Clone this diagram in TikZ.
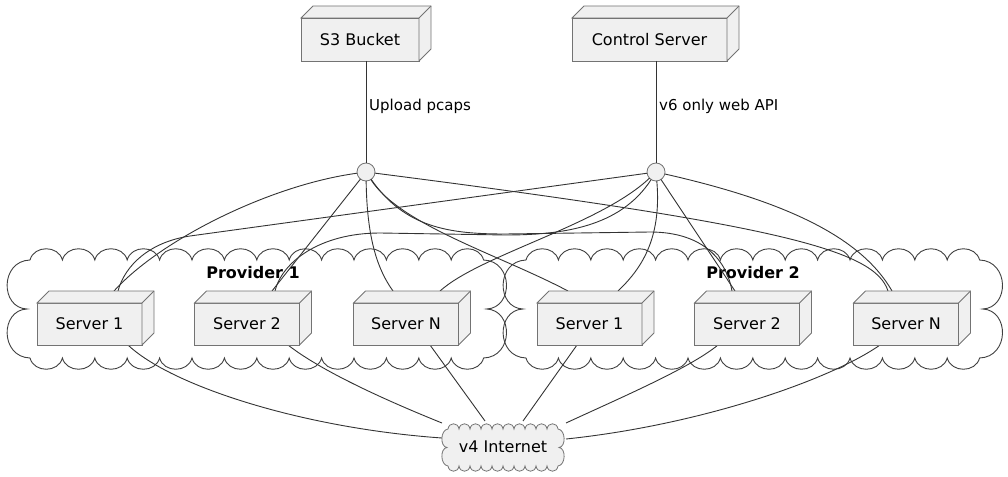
\documentclass[tikz,border=0pt]{standalone}
\usepackage{fontspec}
\setmainfont{DejaVu Sans}
\begin{document}
\begin{tikzpicture}[x=1pt,y=-1pt,
  edge/.style={draw=black!80,line width=0.9pt},
  boxst/.style={draw=black!55,fill=black!6,line width=0.8pt},
  srvbox/.style={boxst,rectangle,minimum width=105pt,minimum height=42pt,inner sep=0pt,outer sep=0pt,font=\fontsize{16}{19}\selectfont},
  topbox/.style={boxst,rectangle,minimum height=43pt,inner sep=0pt,outer sep=0pt,font=\fontsize{16}{19}\selectfont},
  circ/.style={boxst,circle,minimum size=18pt,inner sep=0pt,outer sep=0pt},
  lbl/.style={inner sep=0pt,font=\fontsize{15}{18}\selectfont},
  ttl/.style={inner sep=0pt,font=\fontsize{16}{19}\selectfont\bfseries},
  cloudline/.style={draw=black!75,line width=0.9pt}]
\useasboundingbox (0,0) rectangle (1008,476);
\newcommand\depthfaces[1]{%
  \filldraw[boxst] (#1.north west) -- ++(12,-12) -- ([shift={(12,-12)}]#1.north east)
    -- ([shift={(12,-12)}]#1.south east) -- (#1.south east) -- (#1.north east) -- cycle;
  \draw[boxst] (#1.north east) -- ++(12,-12);}
\newcommand\provcloud[1]{%
  \draw[cloudline] (#1,260)
   \foreach \i in {0,...,13}{ .. controls ({#1+\i*32.4+4},245) and ({#1+(\i+1)*32.4-4},245) .. ({#1+(\i+1)*32.4},260) }
   .. controls ({#1+453.6+30},261) and ({#1+453.6+30},308) .. ({#1+453.6+3},309)
   .. controls ({#1+453.6+30},310) and ({#1+453.6+30},357) .. ({#1+453.6},358)
   \foreach \i in {13,...,0}{ .. controls ({#1+(\i+1)*32.4-4},373) and ({#1+\i*32.4+4},373) .. ({#1+\i*32.4},358) }
   .. controls ({#1-30},357) and ({#1-30},310) .. ({#1-3},309)
   .. controls ({#1-30},308) and ({#1-30},261) .. (#1,260) -- cycle;}
% provider clouds
\provcloud{30}
\provcloud{526}
\node[ttl] (pr1) at (253,273) {Provider 1};
\node[ttl] (pr2) at (753,273) {Provider 2};
% top nodes
\node[topbox,minimum width=118pt] (s3) at (360,39.5) {S3 Bucket};
\depthfaces{s3}
\node[topbox,minimum width=155pt] (cs) at (649.5,39.5) {Control Server};
\depthfaces{cs}
\coordinate (s3b) at (366,61);
\coordinate (csb) at (656,61);
% attach points
\coordinate (a11) at (114,291); \coordinate (b11) at (118,291);
\coordinate (a12) at (272,291); \coordinate (b12) at (275,291);
\coordinate (a1n) at (393,291); \coordinate (b1n) at (440,291);
\coordinate (a21) at (568,291); \coordinate (b21) at (618,291);
\coordinate (a22) at (732,291); \coordinate (b22) at (735,291);
\coordinate (a2n) at (888,291); \coordinate (b2n) at (892,291);
\coordinate (d11) at (128,345); \coordinate (d12) at (288,345); \coordinate (d1n) at (430,345);
\coordinate (d21) at (577,345); \coordinate (d22) at (718,345); \coordinate (d2n) at (880,345);
\coordinate (i11) at (442,438); \coordinate (i12) at (442,423); \coordinate (i1n) at (485,421);
\coordinate (i21) at (523,421); \coordinate (i22) at (566,423); \coordinate (i2n) at (566,439);
\node[circ] (c1) at (366,172) {};
\node[circ] (c2) at (656,172) {};
% edges
\draw[edge] (s3b) -- (c1);
\draw[edge] (csb) -- (c2);
\node[lbl,anchor=west] (l1) at (369,106) {Upload pcaps};
\node[lbl,anchor=west] (l2) at (659,106) {v6 only web API};
\draw[edge] (c1) .. controls (270,185) and (160,240) .. (a11);
\draw[edge] (c1) -- (a12);
\draw[edge] (c1) .. controls (367,240) and (378,270) .. (a1n);
\draw[edge] (c1) .. controls (400,225) and (500,255) .. (a21);
\draw[edge] (c1) .. controls (405,228) and (450,234) .. (505,234) -- (650,232) .. controls (705,232) and (727,262) .. (a22);
\draw[edge] (c1) .. controls (780,225) and (875,250) .. (a2n);
\draw[edge] (c2) -- (190,236) .. controls (150,242) and (125,265) .. (b11);
\draw[edge] (c2) .. controls (620,228) and (560,235) .. (505,235) -- (380,233) .. controls (320,233) and (282,262) .. (b12);
\draw[edge] (c2) .. controls (600,225) and (480,255) .. (b1n);
\draw[edge] (c2) .. controls (662,240) and (640,270) .. (b21);
\draw[edge] (c2) -- (b22);
\draw[edge] (c2) .. controls (780,200) and (860,235) .. (b2n);
% bottom edges
\draw[edge] (d11) .. controls (170,385) and (300,428) .. (i11);
\draw[edge] (d12) .. controls (320,370) and (380,398) .. (i12);
\draw[edge] (d1n) -- (i1n);
\draw[edge] (d21) -- (i21);
\draw[edge] (d22) .. controls (690,368) and (620,398) .. (i22);
\draw[edge] (d2n) .. controls (830,380) and (700,425) .. (i2n);
% servers
\node[srvbox] (p1s1) at (89.5,324) {Server 1}; \depthfaces{p1s1}
\node[srvbox] (p1s2) at (247,324) {Server 2}; \depthfaces{p1s2}
\node[srvbox] (p1sn) at (406,324) {Server N}; \depthfaces{p1sn}
\node[srvbox] (p2s1) at (589.5,324) {Server 1}; \depthfaces{p2s1}
\node[srvbox] (p2s2) at (747,324) {Server 2}; \depthfaces{p2s2}
\node[srvbox] (p2sn) at (906,324) {Server N}; \depthfaces{p2sn}
% internet cloud
\filldraw[boxst] (448,429)
   \foreach \i in {0,...,9}{ .. controls ({448+\i*11+1},422) and ({448+(\i+1)*11-1},422) .. ({448+(\i+1)*11},429) }
   .. controls (566,430) and (566,447) .. (559,447.5)
   .. controls (566,448) and (566,465) .. (558,466)
   \foreach \i in {9,...,0}{ .. controls ({448+(\i+1)*11-1},473) and ({448+\i*11+1},473) .. ({448+\i*11},466) }
   .. controls (440,465) and (440,448) .. (447,447.5)
   .. controls (440,447) and (440,430) .. (448,429) -- cycle;
\node[inner sep=0pt,font=\fontsize{16}{19}\selectfont] (inet) at (503,447) {v4 Internet};
\end{tikzpicture}
\end{document}
